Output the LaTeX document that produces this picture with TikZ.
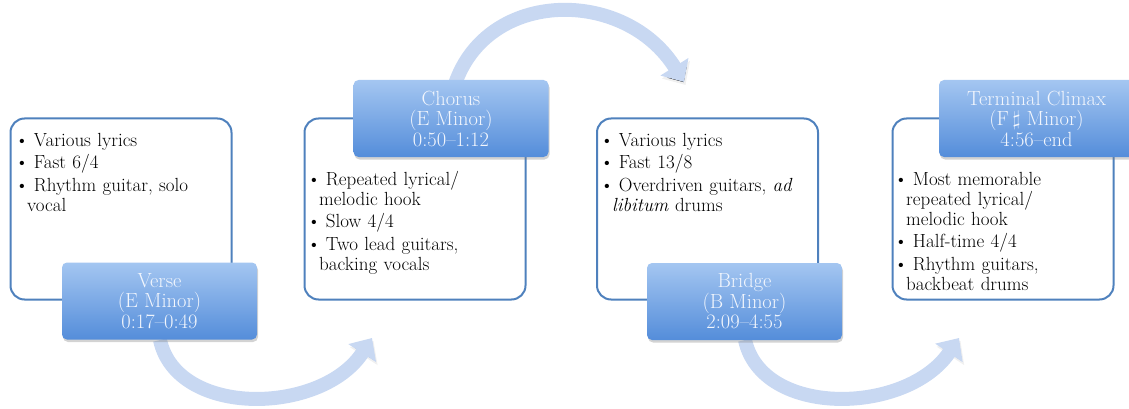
\documentclass[tikz,border=0pt]{standalone}
\usetikzlibrary{arrows.meta,shadows}

\definecolor{boxline}{HTML}{4F81BD}
\definecolor{headtop}{HTML}{A4C6F1}
\definecolor{headbot}{HTML}{548DDA}
\definecolor{flowcol}{HTML}{C8D8F2}
\definecolor{headtext}{HTML}{F2F6FD}

\newenvironment{blist}{\begin{list}{\textbullet}{%
  \setlength\leftmargin{12pt}\setlength\labelsep{5pt}%
  \setlength\labelwidth{7pt}\setlength\itemsep{2.5pt}%
  \setlength\topsep{0pt}\setlength\parsep{0pt}\setlength\partopsep{0pt}}}%
  {\end{list}}

\tikzset{
  body/.style={draw=boxline, line width=2pt, fill=white, rounded corners=14pt,
    minimum width=221pt, minimum height=181pt},
  head/.style={rounded corners=5pt, top color=headtop, bottom color=headbot,
    minimum width=195pt, minimum height=77pt, text=headtext, align=center,
    font=\fontsize{20.5}{20.5}\selectfont,
    drop shadow={opacity=0.35, shadow xshift=1pt, shadow yshift=-2.5pt}},
  items/.style={anchor=north west, inner sep=0pt, text width=215pt,
    font=\fontsize{19}{20}\selectfont},
  flow/.style={draw=flowcol, line width=14pt, -{Triangle[length=18pt,width=32pt]},
    preaction={draw=black, draw opacity=0.06,
      transform canvas={shift={(1.5pt,-3pt)}}}}
}

\begin{document}
\begin{tikzpicture}[x=1pt,y=-1pt]
        \useasboundingbox (0,0) rectangle (1129,409);

        % end points of the arrows
        \coordinate (tipA) at (372,338);
        \coordinate (tipB) at (684,82);
        \coordinate (tipC) at (959,338);

        % boxes
        \node[body] (verseBox) at (121,209) {};
        \node[body] (chorusBox) at (415,209) {};
        \node[body] (bridgeBox) at (707.5,209) {};
        \node[body] (climaxBox) at (1003,209) {};

        \node[items] (verseText) at (15,126) {\begin{blist}
            \item Various lyrics
            \item Fast 6/4
            \item Rhythm guitar, solo\newline vocal
          \end{blist}};
        \node[items] (chorusText) at (307,165) {\begin{blist}
            \item Repeated lyrical/\newline melodic hook
            \item Slow 4/4
            \item Two lead guitars,\newline backing vocals
          \end{blist}};
        \node[items] (bridgeText) at (600,126) {\begin{blist}
            \item Various lyrics
            \item Fast 13/8
            \item Overdriven guitars, \emph{ad}\newline \emph{libitum} drums
          \end{blist}};
        \node[items] (climaxText) at (894,165) {\begin{blist}
            \item Most memorable\newline repeated lyrical/\newline melodic hook
            \item Half-time 4/4
            \item Rhythm guitars,\newline backbeat drums
          \end{blist}};

        % arrows between the sections
        \coordinate (startA) at (160,340);
        \coordinate (startB) at (455,84);
        \coordinate (startC) at (745,340);
        \draw[flow] (startA) .. controls (177,418) and (322,415) .. (tipA);
        \draw[flow] (startB) .. controls (488,-12) and (625,-12) .. (tipB);
        \draw[flow] (startC) .. controls (762,418) and (907,415) .. (tipC);

        % section heads
        \node[head] (verseHead) at (159.5,301) {Verse\\(E Minor)\\0:17--0:49};
        \node[head] (chorusHead) at (451,118.5) {Chorus\\(E Minor)\\0:50--1:12};
        \node[head] (bridgeHead) at (744.5,301.5) {Bridge\\(B Minor)\\2:09--4:55};
        \node[head] (climaxHead) at (1036.5,118.5) {Terminal Climax\\(F\,$\sharp$ Minor)\\4:56--end};
    \end{tikzpicture}
\end{document}
